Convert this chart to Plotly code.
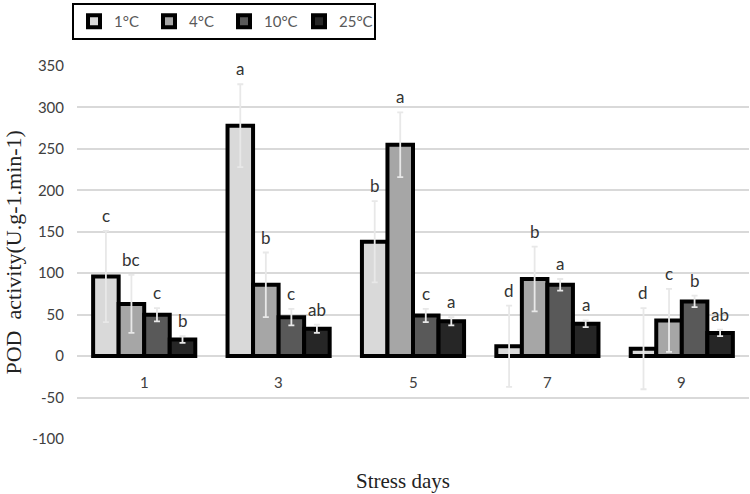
import plotly.graph_objects as go

days = ["1", "3", "5", "7", "9"]
series_names = ["1°C", "4°C", "10°C", "25°C"]
values = {
    "1°C": [96, 278, 138, 12, 9],
    "4°C": [63, 86, 255, 93, 43],
    "10°C": [50, 47, 49, 86, 66],
    "25°C": [20, 33, 42, 39, 28],
}
errors = {
    "1°C": [55, 50, 49, 49, 49],
    "4°C": [35, 39, 39, 39, 38],
    "10°C": [8, 10, 8, 7, 7],
    "25°C": [4, 5, 5, 4, 4],
}
letters = {
    "1°C": ["c", "a", "b", "d", "d"],
    "4°C": ["bc", "b", "a", "b", "c"],
    "10°C": ["c", "c", "c", "a", "b"],
    "25°C": ["b", "ab", "a", "a", "ab"],
}
y_ticks = [-100, -50, 0, 50, 100, 150, 200, 250, 300, 350]
y_ticktext = [str(v) for v in y_ticks]

colors = ["#d9d9d9", "#a6a6a6", "#595959", "#262626"]

W, H = 750, 494
ml, mr, mt, mb = 77, 1, 66, 55
bargap = 0.24
plot_w = W - ml - mr
plot_h = H - mt - mb
cat_px = plot_w / len(days)
bar_px = cat_px * (1 - bargap) / len(series_names)

fig = go.Figure()
for i, s in enumerate(series_names):
    fig.add_trace(go.Bar(
        x=days, y=values[s], name=s,
        marker=dict(color=colors[i], line=dict(color="black", width=4)),
        error_y=dict(type="data", array=errors[s], color="#e8e8e8", thickness=1.8, width=3),
    ))

annotations = []
for i, s in enumerate(series_names):
    off = (i - (len(series_names) - 1) / 2) * bar_px
    for j, d in enumerate(days):
        annotations.append(dict(
            x=j, y=values[s][j] + errors[s][j], xref="x", yref="y",
            text=letters[s][j], showarrow=False, yanchor="bottom", yshift=3, xshift=off,
            font=dict(family="Lato", size=17, color="#333333"),
        ))
for j, d in enumerate(days):
    annotations.append(dict(
        x=j, y=0, xref="x", yref="y", text=d, showarrow=False,
        yanchor="middle", yshift=-26,
        font=dict(family="Lato", size=15, color="#404040"),
    ))
annotations.append(dict(
    x=(13 - ml) / plot_w, y=0.5, xref="paper", yref="paper",
    xanchor="center", yanchor="middle",
    text="POD  activity(U.g-1.min-1)", textangle=-90, showarrow=False,
    font=dict(family="Liberation Serif", size=22, color="#222222"),
))
annotations.append(dict(
    x=(403 - ml) / plot_w, y=(H - mb - 481) / plot_h, xref="paper", yref="paper",
    xanchor="center", yanchor="middle",
    text="Stress days", showarrow=False,
    font=dict(family="Liberation Serif", size=21, color="#222222"),
))

fig.update_layout(
    width=W, height=H,
    margin=dict(l=ml, r=mr, t=mt, b=mb, autoexpand=False),
    plot_bgcolor="white", paper_bgcolor="white",
    barmode="group", bargap=bargap, bargroupgap=0,
    showlegend=True,
    legend=dict(
        orientation="h", x=(72 - ml) / plot_w, y=(H - mb - 3) / plot_h,
        xanchor="left", yanchor="top",
        bordercolor="black", borderwidth=2, bgcolor="white",
        font=dict(family="Lato", size=15, color="#595959"),
        tracegroupgap=0, itemwidth=30, entrywidth=30, entrywidthmode="pixels",
    ),
    xaxis=dict(type="category", showticklabels=False, showgrid=False, zeroline=False,
               showline=False, ticks="", automargin=False),
    yaxis=dict(
        range=[-100, 350], tickvals=y_ticks, ticktext=y_ticktext,
        showgrid=True, gridcolor="#d9d9d9", gridwidth=1.5,
        zeroline=False, showline=False, ticks="", automargin=False,
        ticklabelstandoff=12,
        tickfont=dict(family="Lato", size=15, color="#404040"),
    ),
    annotations=annotations,
)
fig.write_html("out.html", config={"displayModeBar": False},
               post_script="document.body.style.margin='0px';")
